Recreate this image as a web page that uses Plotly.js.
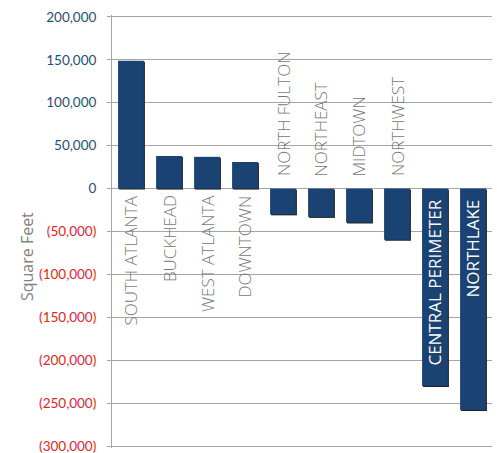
<!DOCTYPE html>
<html><head><meta charset="utf-8">
<script src="https://cdn.plot.ly/plotly-3.0.1.min.js"></script>
<style>
html,body{margin:0;padding:0;background:#fff;}
#chart .bars .point path{filter:drop-shadow(1.5px 1.5px 0 #222);}
</style>
</head><body>
<div id="chart" style="width:497px;height:453px;"></div>
<script>
const categories = ["SOUTH ATLANTA","BUCKHEAD","WEST ATLANTA","DOWNTOWN","NORTH FULTON","NORTHEAST","MIDTOWN","NORTHWEST","CENTRAL PERIMETER","NORTHLAKE"];
const values = [149000, 38000, 37000, 31000, -30000, -33000, -39500, -59500, -230000, -258000];
const tickValues = [200000,150000,100000,50000,0,-50000,-100000,-150000,-200000,-250000,-300000];
const tickLabels = ["200,000","150,000","100,000","50,000","0","(50,000)","(100,000)","(150,000)","(200,000)","(250,000)","(300,000)"];
const labelInside = [false,false,false,false,false,false,false,false,true,true];

const blue = "#1a4373", red = "#e3242b", tickBlue = "#1c4f80";
const tickText = tickLabels.map((t,i)=> tickValues[i] < 0 ? `<span style="color:${red}">${t}</span>` : t);

const annotations = categories.map((c,i)=>{
  const v = values[i];
  const a = {x:c, y:0, xref:'x', yref:'y', text:c, textangle:-90, showarrow:false,
    font:{family:'"Open Sans", sans-serif', size:17, weight:300, color:'#777777'}, xanchor:'center'};
  if (v > 0) { a.yanchor='top'; a.yshift=-5; }
  else if (labelInside[i]) { a.yanchor='top'; a.yshift=-9; a.font.color='#ffffff'; a.font.weight=400; }
  else { a.yanchor='bottom'; a.yshift=10; }
  return a;
});
annotations.push({xref:'paper', yref:'paper', x:-0.224, y:0.443, text:'Square Feet', textangle:-90,
  showarrow:false, font:{family:'"Open Sans", sans-serif', size:16, color:'#808080'}, xanchor:'center', yanchor:'middle'});

Plotly.newPlot('chart', [{
  type:'bar', x:categories, y:values, marker:{color:blue}, hoverinfo:'none'
}], {
  width:497, height:453,
  margin:{l:112, r:5, t:15, b:5},
  paper_bgcolor:'#fff', plot_bgcolor:'#fff',
  bargap:0.32, showlegend:false,
  xaxis:{showticklabels:false, showgrid:false, zeroline:false, showline:false, ticks:''},
  yaxis:{range:[-302200,202200], tickvals:tickValues, ticktext:tickText,
    showgrid:true, gridcolor:'#a6a6a6', gridwidth:1, zeroline:false,
    showline:true, linecolor:'#a6a6a6', linewidth:1,
    ticks:'outside', ticklen:4, tickcolor:'#a6a6a6', ticklabelstandoff:8, ticklabeloverflow:'allow',
    tickfont:{family:'Lato, "Open Sans", sans-serif', size:13.5, color:tickBlue}},
  annotations:annotations
}, {staticPlot:true});
</script>
</body></html>
